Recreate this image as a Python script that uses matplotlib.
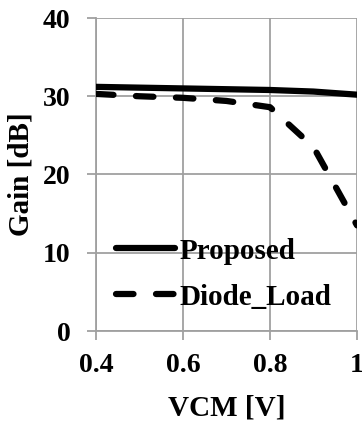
import matplotlib
matplotlib.use("Agg")
import matplotlib.pyplot as plt

vcm = [0.4, 0.5, 0.6, 0.7, 0.8, 0.9, 1.0]
proposed = [31.2, 31.1, 31.0, 30.9, 30.8, 30.6, 30.2]
diode_load = [30.3, 30.0, 29.8, 29.4, 28.6, 23.5, 13.5]
xticks = [0.4, 0.6, 0.8, 1.0]
xticklabels = ["0.4", "0.6", "0.8", "1"]
yticks = [0, 10, 20, 30, 40]

plt.rcParams['font.family'] = ['Liberation Serif', 'DejaVu Serif']
plt.rcParams['font.weight'] = 'bold'

fig = plt.figure(figsize=(3.62, 4.23), dpi=100)
ax = fig.add_axes([96/362, 1-331/423, (357-96)/362, (331-18)/423])

grid_c = '#a0a0a0'
ax.plot(vcm, proposed, color='black', lw=4.5, solid_capstyle='round', label='Proposed', zorder=3)
ax.plot(vcm, diode_load, color='black', lw=4.5, dashes=(2.8, 3.6), dash_capstyle='round',
        label='Diode_Load', zorder=3)

ax.set_xlim(0.4, 1.0)
ax.set_ylim(0, 40)
ax.set_xticks(xticks)
ax.set_xticklabels(xticklabels)
ax.set_yticks(yticks)
ax.grid(True, color=grid_c, lw=1.3)
for s in ['top', 'right']:
    ax.spines[s].set_visible(False)
for s in ['left', 'bottom']:
    ax.spines[s].set_color(grid_c)
    ax.spines[s].set_linewidth(1.3)
ax.tick_params(axis='both', direction='out', length=6.5, width=1.3, color=grid_c,
               labelsize=20)
ax.tick_params(axis='y', pad=12)
ax.tick_params(axis='x', pad=9)
for lab in ax.get_xticklabels() + ax.get_yticklabels():
    lab.set_fontweight('bold')
ax.set_xlabel('VCM [V]', fontsize=21, fontweight='bold', labelpad=12)
ax.set_ylabel('Gain [dB]', fontsize=21, fontweight='bold', labelpad=6)

leg = ax.legend(loc='lower left', bbox_to_anchor=(0.0, 0.0), frameon=False,
                prop={'family': 'Liberation Serif', 'weight': 'bold', 'size': 21},
                handlelength=2.0, handletextpad=0.15, labelspacing=0.65, borderaxespad=0.3)

fig.savefig('out.png', dpi=100)
